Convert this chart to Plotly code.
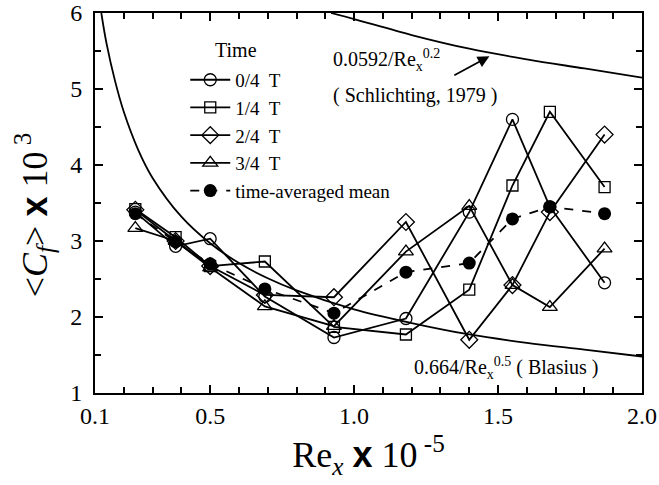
import plotly.graph_objects as go

# ---- data ----
re_x = [0.24, 0.38, 0.50, 0.69, 0.93, 1.18, 1.40, 1.55, 1.68, 1.87]
cf_t0 = [3.38, 2.93, 3.03, 2.27, 1.73, 1.98, 3.38, 4.60, 3.45, 2.45]
cf_t1 = [3.42, 3.05, 2.67, 2.73, 1.87, 1.77, 2.36, 3.73, 4.70, 3.71]
cf_t2 = [3.41, 3.00, 2.67, 2.29, 2.26, 3.25, 1.70, 2.42, 3.38, 4.40]
cf_t3 = [3.17, 3.00, 2.65, 2.14, 1.88, 2.86, 3.46, 2.42, 2.13, 2.90]
cf_mean = [3.36, 2.99, 2.70, 2.37, 2.05, 2.59, 2.71, 3.29, 3.45, 3.36]

# Blasius curve
blasius_x = [0.122, 0.14, 0.17, 0.2, 0.25, 0.3, 0.4, 0.5, 0.6, 0.7, 0.8, 1.0, 1.2, 1.4, 1.6, 1.8, 2.0]
blasius_y = [6.0, 5.6, 5.1, 4.7, 4.2, 3.83, 3.32, 2.97, 2.71, 2.51, 2.35, 2.1, 1.92, 1.77, 1.66, 1.57, 1.48]
# Schlichting curve
schl_x = [0.92, 1.0, 1.2, 1.4, 1.6, 1.8, 2.0]
schl_y = [6.0, 5.92, 5.71, 5.53, 5.39, 5.27, 5.15]

x_ticks = [0.1, 0.5, 1.0, 1.5, 2.0]
x_ticktext = ["0.1", "0.5", "1.0", "1.5", "2.0"]
y_ticks = [1, 2, 3, 4, 5, 6]

SERIF = "Liberation Serif, Times New Roman, serif"
fig = go.Figure()

fig.add_trace(go.Scatter(x=blasius_x, y=blasius_y, mode="lines", line=dict(color="black", width=1.8, shape="spline"),
                         showlegend=False, hoverinfo="skip"))
fig.add_trace(go.Scatter(x=schl_x, y=schl_y, mode="lines", line=dict(color="black", width=1.8, shape="spline"),
                         showlegend=False, hoverinfo="skip"))

series = [(cf_t0, "circle-open", "0/4  T", 12),
          (cf_t1, "square-open", "1/4  T", 11),
          (cf_t2, "diamond-open", "2/4  T", 13),
          (cf_t3, "triangle-up-open", "3/4  T", 13)]
for ys, sym, name, sz in series:
    fig.add_trace(go.Scatter(x=re_x, y=ys, mode="lines+markers", name=name,
                             line=dict(color="black", width=1.8),
                             marker=dict(symbol=sym, size=sz, color="black", line=dict(width=1.3, color="black"))))
fig.add_trace(go.Scatter(x=re_x, y=cf_mean, mode="lines+markers", name="time-averaged mean",
                         line=dict(color="black", width=1.8, dash="dash"),
                         marker=dict(symbol="circle", size=13, color="black")))

axis_common = dict(showline=True, linecolor="black", linewidth=2, mirror="ticks", ticks="inside",
                   tickcolor="black", tickwidth=1.5, ticklen=8, showgrid=False, zeroline=False,
                   automargin=False,
                   tickfont=dict(family=SERIF, size=24, color="black"))
fig.update_xaxes(range=[0.1, 2.0], tickvals=x_ticks, ticktext=x_ticktext,
                 minor=dict(tick0=0.1, dtick=0.1, ticks="inside", ticklen=6, tickcolor="black", tickwidth=1.5),
                 title=dict(text="Re<sub><i>x</i></sub> <span style=\"font-family:Liberation Sans;font-weight:bold\">x</span> 10<sup> -5</sup>",
                            font=dict(family=SERIF, size=36, color="black"), standoff=14),
                 **axis_common)
fig.update_yaxes(range=[1, 6], tickvals=y_ticks,
                 minor=dict(dtick=0.5, ticks="inside", ticklen=6, tickcolor="black", tickwidth=1.5),
                 ticklabelstandoff=6,
                 **axis_common)

# y-axis title placed as rotated text
fig.add_annotation(x=-0.11, y=0.47, xref="paper", yref="paper", textangle=-90, showarrow=False,
                   text="&lt;<i>C</i><sub><i>f</i></sub>&gt; <span style=\"font-family:Liberation Sans;font-weight:bold\">x</span> 10<sup> 3</sup>",
                   xanchor="center", yanchor="middle", font=dict(family=SERIF, size=36, color="black"))

fig.add_annotation(x=0.92, y=5.38, xref="x", yref="y", text="0.0592/Re<sub>x</sub><sup>0.2</sup>", showarrow=False,
                   xanchor="left", yanchor="middle", font=dict(family=SERIF, size=20, color="black"))
fig.add_annotation(x=0.92, y=4.92, xref="x", yref="y", text="( Schlichting, 1979 )", showarrow=False,
                   xanchor="left", yanchor="middle", font=dict(family=SERIF, size=20, color="black"))
fig.add_annotation(x=1.47, y=5.43, ax=1.343, ay=5.17, xref="x", yref="y", axref="x", ayref="y", text="",
                   showarrow=True, arrowhead=2, arrowsize=1.3, arrowwidth=1.8, arrowcolor="black")
fig.add_annotation(x=1.20, y=1.33, xref="x", yref="y", text="0.664/Re<sub>x</sub><sup>0.5</sup> ( Blasius )", showarrow=False,
                   xanchor="left", yanchor="middle", font=dict(family=SERIF, size=20, color="black"))
fig.add_annotation(x=0.216, y=0.903, xref="paper", yref="paper", text="Time", showarrow=False,
                   xanchor="left", yanchor="middle", font=dict(family=SERIF, size=20, color="black"))

fig.update_layout(width=659, height=485, margin=dict(l=95, r=17, t=13, b=92),
                  paper_bgcolor="white", plot_bgcolor="white",
                  font=dict(family=SERIF, color="black"),
                  legend=dict(x=0.165, y=0.874, xanchor="left", yanchor="top", bgcolor="rgba(0,0,0,0)",
                              font=dict(family=SERIF, size=19, color="black"), itemwidth=40))

fig.write_html("out.html")
